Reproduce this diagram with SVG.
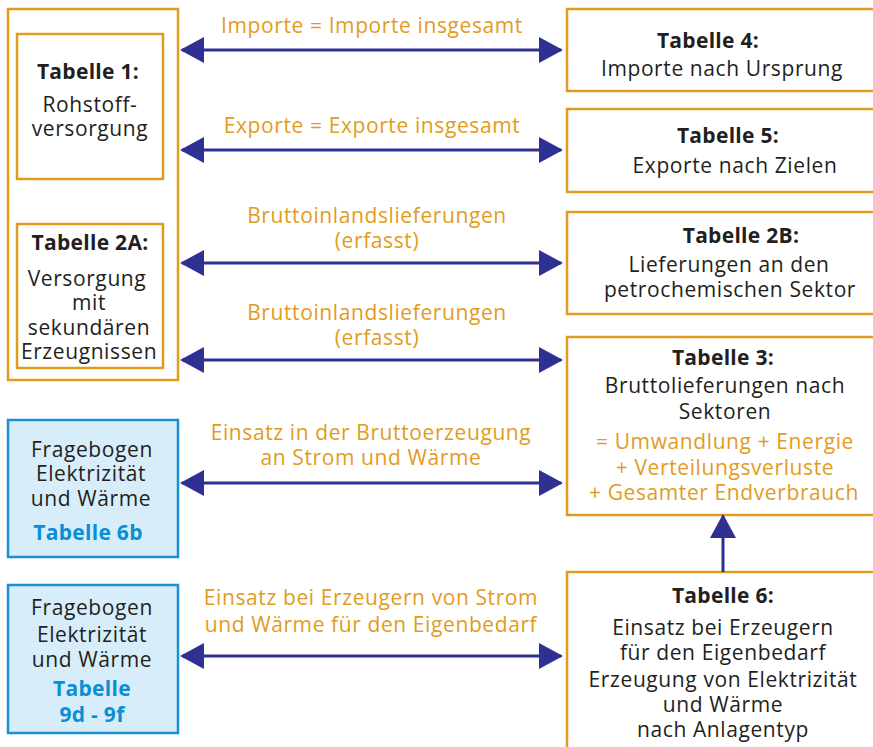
<svg xmlns="http://www.w3.org/2000/svg" width="873" height="747" viewBox="0 0 873 747">
  <style>
    .box { fill: #ffffff; stroke: #e19b1e; stroke-width: 2.5; }
    .qbox { fill: #d7eefa; stroke: #1b8fd2; stroke-width: 2.5; }
    text { font-family: "Open Sans", "Noto Sans", "Liberation Sans", sans-serif; font-size: 21px; letter-spacing: 0.6px; text-anchor: middle; }
    .t { fill: #231f20; }
    .h { fill: #231f20; font-weight: bold; letter-spacing: 0.3px; }
    .o { fill: #e39b1d; }
    .b { fill: #0a8ed6; font-weight: bold; letter-spacing: 0.3px; }
    .conn line { stroke: #2e3192; stroke-width: 3; }
  </style>
  <defs>
    <marker id="head" viewBox="0 0 24 26" refX="22" refY="13" markerWidth="24" markerHeight="26" markerUnits="userSpaceOnUse" orient="auto-start-reverse">
      <path d="M0,0 L24,13 L0,26 Z" fill="#2e3192"/>
    </marker>
  </defs>

  <rect width="873" height="747" fill="#ffffff"/>

  <!-- left supply frame -->
  <g id="supply">
    <rect class="box" x="8" y="9" width="170" height="371"/>
  </g>

  <g id="tab1">
    <rect class="box" x="17" y="34" width="146" height="145"/>
    <text class="h" x="88" y="79">Tabelle 1:</text>
    <text class="t" x="90" y="112">Rohstoff-</text>
    <text class="t" x="90" y="136">versorgung</text>
  </g>

  <g id="tab2a">
    <rect class="box" x="17" y="224" width="146" height="144"/>
    <text class="h" x="90" y="250">Tabelle 2A:</text>
    <text class="t" x="87" y="286">Versorgung</text>
    <text class="t" x="89" y="310">mit</text>
    <text class="t" x="89" y="335">sekundären</text>
    <text class="t" x="89" y="359">Erzeugnissen</text>
  </g>

  <g id="fb6b">
    <rect class="qbox" x="8" y="420" width="170" height="137"/>
    <text class="t" x="92" y="457">Fragebogen</text>
    <text class="t" x="91" y="481">Elektrizität</text>
    <text class="t" x="91" y="506">und Wärme</text>
    <text class="b" x="88" y="540">Tabelle 6b</text>
  </g>

  <g id="fb9">
    <rect class="qbox" x="8" y="585" width="170" height="148"/>
    <text class="t" x="92" y="615">Fragebogen</text>
    <text class="t" x="92" y="642">Elektrizität</text>
    <text class="t" x="92" y="667">und Wärme</text>
    <text class="b" x="92" y="696">Tabelle</text>
    <text class="b" x="92" y="722">9d - 9f</text>
  </g>

  <!-- right-hand tables -->
  <g id="tab4">
    <rect class="box" x="567" y="9" width="320" height="82"/>
    <text class="h" x="708" y="48">Tabelle 4:</text>
    <text class="t" x="722" y="76">Importe nach Ursprung</text>
  </g>

  <g id="tab5">
    <rect class="box" x="567" y="109" width="320" height="83"/>
    <text class="h" x="728" y="143">Tabelle 5:</text>
    <text class="t" x="735" y="173">Exporte nach Zielen</text>
  </g>

  <g id="tab2b">
    <rect class="box" x="567" y="212" width="320" height="102"/>
    <text class="h" x="741" y="243">Tabelle 2B:</text>
    <text class="t" x="729" y="272">Lieferungen an den</text>
    <text class="t" x="730" y="297">petrochemischen Sektor</text>
  </g>

  <g id="tab3">
    <rect class="box" x="567" y="337" width="320" height="178"/>
    <text class="h" x="723" y="365">Tabelle 3:</text>
    <text class="t" x="725" y="393">Bruttolieferungen nach</text>
    <text class="t" x="725" y="419">Sektoren</text>
    <text class="o" x="725" y="449">= Umwandlung + Energie</text>
    <text class="o" x="725" y="475">+ Verteilungsverluste</text>
    <text class="o" x="724" y="500">+ Gesamter Endverbrauch</text>
  </g>

  <g id="tab6">
    <rect class="box" x="567" y="572" width="320" height="190"/>
    <text class="h" x="723" y="603">Tabelle 6:</text>
    <text class="t" x="723" y="635">Einsatz bei Erzeugern</text>
    <text class="t" x="723" y="660">für den Eigenbedarf</text>
    <text class="t" x="723" y="687">Erzeugung von Elektrizität</text>
    <text class="t" x="723" y="712">und Wärme</text>
    <text class="t" x="723" y="737">nach Anlagentyp</text>
  </g>

  <!-- connectors -->
  <g id="connectors" class="conn">
    <line x1="182" y1="50" x2="561" y2="50" marker-start="url(#head)" marker-end="url(#head)"/>
    <line x1="182" y1="150" x2="561" y2="150" marker-start="url(#head)" marker-end="url(#head)"/>
    <line x1="182" y1="263" x2="561" y2="263" marker-start="url(#head)" marker-end="url(#head)"/>
    <line x1="182" y1="360" x2="561" y2="360" marker-start="url(#head)" marker-end="url(#head)"/>
    <line x1="182" y1="483" x2="561" y2="483" marker-start="url(#head)" marker-end="url(#head)"/>
    <line x1="182" y1="656" x2="561" y2="656" marker-start="url(#head)" marker-end="url(#head)"/>
    <line x1="723" y1="572" x2="723" y2="516" marker-end="url(#head)"/>

    <text class="o" x="372" y="33">Importe = Importe insgesamt</text>
    <text class="o" x="372" y="133">Exporte = Exporte insgesamt</text>
    <text class="o" x="377" y="223">Bruttoinlandslieferungen</text>
    <text class="o" x="377" y="248">(erfasst)</text>
    <text class="o" x="377" y="320">Bruttoinlandslieferungen</text>
    <text class="o" x="377" y="345">(erfasst)</text>
    <text class="o" x="371" y="440">Einsatz in der Bruttoerzeugung</text>
    <text class="o" x="371" y="465">an Strom und Wärme</text>
    <text class="o" x="371" y="605">Einsatz bei Erzeugern von Strom</text>
    <text class="o" x="371" y="632">und Wärme für den Eigenbedarf</text>
  </g>
</svg>
